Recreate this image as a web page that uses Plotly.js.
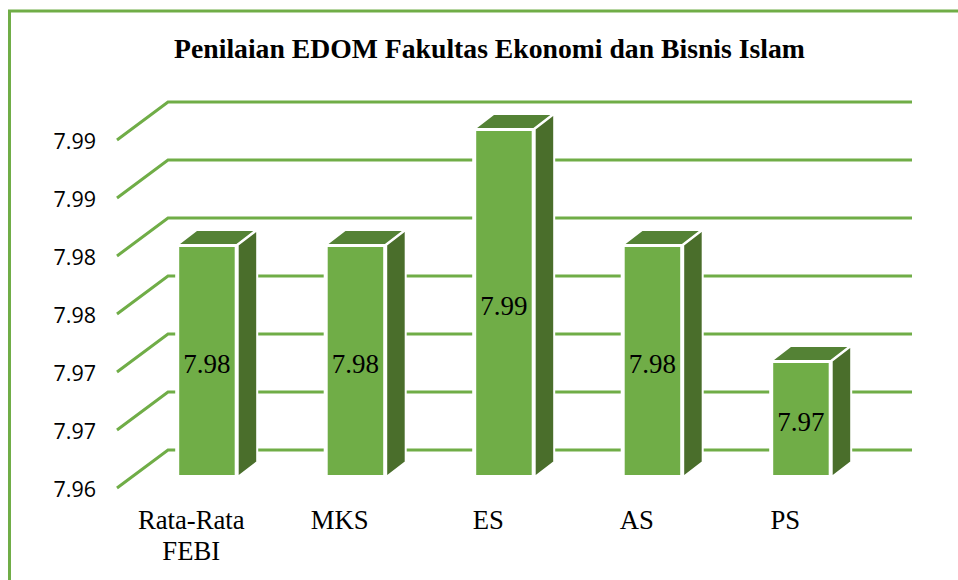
<!DOCTYPE html>
<html>
<head>
<meta charset="utf-8">
<script src="https://cdn.plot.ly/plotly-3.0.1.min.js"></script>
<style>html,body{margin:0;padding:0;background:#fff;overflow:hidden}</style>
</head>
<body>
<div id="chart" style="width:958px;height:580px"></div>
<script>
const categories = ['Rata-Rata<br>FEBI', 'MKS', 'ES', 'AS', 'PS'];
const values = [7.98, 7.98, 7.99, 7.98, 7.97];
const labels = ['7.98', '7.98', '7.99', '7.98', '7.97'];
const yTickValues = [7.96, 7.965, 7.97, 7.975, 7.98, 7.985, 7.99];
const yTickLabels = ['7.96', '7.97', '7.97', '7.98', '7.98', '7.99', '7.99'];

const green = '#70AD47', topGreen = '#548235', sideGreen = '#4A6E2B';
const serif = '"Liberation Serif", serif';
const pad = 4;
const M = {l: 117 - pad, r: 46, t: 102 - pad, b: 92 - pad};
const plotW = 958 - M.l - M.r, plotH = 580 - M.t - M.b;
const catPx = 148.5, valPx = 11600;
const X = px => px / catPx, Y = px => px / valPx;
const yMin = 7.96, xMin = -0.5;
const xRange = [xMin - X(pad), xMin - X(pad) + X(plotW)];
const yRange = [yMin - Y(pad), yMin - Y(pad) + Y(plotH)];

// geometry of the pseudo-3D look, in pixels
const wallDx = 51, wallDy = 38, barShift = 15.7, barLift = 11, barW = 59.5, depthX = 19.5, depthY = 15;
const tickLabelDrop = 1.5, labelDrop = 5;

const xs = categories.map((_, i) => i);
const front = {
  type: 'bar', x: xs.map(i => i + X(barShift)), y: values.map(v => v - yMin),
  base: values.map(() => yMin + Y(barLift)), width: X(barW),
  marker: {color: green, line: {color: '#fff', width: 4}},
  cliponaxis: false, hoverinfo: 'skip', showlegend: false
};
const barText = {
  type: 'scatter', mode: 'text', x: xs.map(i => i + X(barShift)),
  y: values.map(v => (v + yMin) / 2 + Y(barLift - labelDrop)),
  text: labels, textposition: 'middle center', cliponaxis: false,
  textfont: {family: serif, size: 27, color: '#000'}, hoverinfo: 'skip', showlegend: false
};
function face(color, corners) {
  return {type: 'scatter', mode: 'lines', x: corners.map(c => c[0]), y: corners.map(c => c[1]),
    fill: 'toself', fillcolor: color, line: {color: '#fff', width: 2}, cliponaxis: false,
    hoverinfo: 'skip', showlegend: false};
}
const tops = values.map((v, i) => {
  const l = i + X(barShift - barW / 2), r = l + X(barW), t = v + Y(barLift);
  return face(topGreen, [[l, t], [l + X(depthX), t + Y(depthY)], [r + X(depthX), t + Y(depthY)], [r, t], [l, t]]);
});
const sides = values.map((v, i) => {
  const r = i + X(barShift + barW / 2 + 1), t = v + Y(barLift), b = yMin + Y(barLift);
  return face(sideGreen, [[r, b], [r, t], [r + X(depthX), t + Y(depthY)], [r + X(depthX), b + Y(depthY)], [r, b]]);
});
const gridEnd = xMin + X(912 - 117);
const gridShapes = yTickValues.map(t => ({
  type: 'path', layer: 'below', xref: 'x', yref: 'y',
  path: `M ${xMin} ${t} L ${xMin + X(wallDx)} ${t + Y(wallDy)} L ${gridEnd} ${t + Y(wallDy)}`,
  line: {color: green, width: 3}
}));
const fx = px => (px - M.l) / plotW, fy = py => 1 - (py - M.t) / plotH;
const frame = [
  {type: 'line', xref: 'paper', yref: 'paper', x0: fx(9.5), x1: fx(9.5), y0: fy(11), y1: fy(580), line: {color: green, width: 3}},
  {type: 'line', xref: 'paper', yref: 'paper', x0: fx(8), x1: fx(958), y0: fy(11), y1: fy(11), line: {color: green, width: 3}}
];
const layout = {
  width: 958, height: 580, autosize: false, margin: M,
  paper_bgcolor: '#fff', plot_bgcolor: 'rgba(0,0,0,0)', showlegend: false,
  title: {text: 'Penilaian EDOM Fakultas Ekonomi dan Bisnis Islam', xref: 'container', yref: 'container',
    x: 489.5 / 958, xanchor: 'center', y: 1 - 48.5 / 580, yanchor: 'middle',
    font: {family: serif, size: 27.7, weight: 700, color: '#000'}},
  xaxis: {range: xRange, tickmode: 'array', tickvals: xs,
    ticktext: categories.map(c => c.split('<br>').map(s => `<span style="font-size:26.7px">${s}</span>`).join('<br>')),
    showgrid: false, zeroline: false, showline: false, ticks: '', ticklabelstandoff: 12, fixedrange: true, tickangle: 0,
    tickfont: {family: serif, size: 24, color: '#000'}},
  yaxis: {range: yRange, tickmode: 'array', tickvals: yTickValues.map(t => t - Y(tickLabelDrop)), ticktext: yTickLabels,
    showgrid: false, zeroline: false, showline: false, ticks: '', ticklabelstandoff: 16, fixedrange: true,
    tickfont: {family: '"Open Sans", sans-serif', size: 21.5, color: '#000'}},
  shapes: gridShapes.concat(frame), bargap: 0
};
Plotly.newPlot('chart', [front, barText].concat(tops, sides), layout, {displayModeBar: false, staticPlot: true});
</script>
</body>
</html>
